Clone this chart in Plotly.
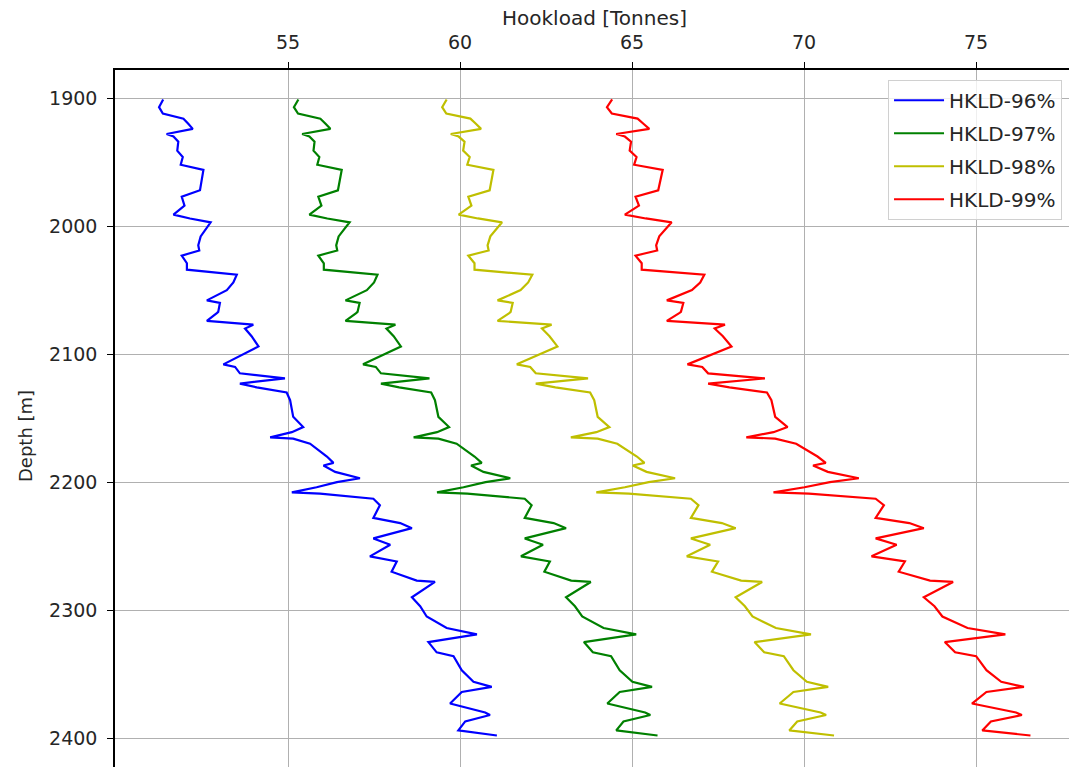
import plotly.graph_objects as go

depth = [1901, 1907, 1912, 1916, 1920, 1924, 1928, 1930, 1934, 1941,
         1946, 1952, 1956, 1964, 1972, 1977, 1984, 1991, 1994, 1997,
         2003, 2008, 2015, 2019, 2023, 2029, 2034, 2038, 2044, 2050,
         2058, 2060, 2067, 2068, 2074, 2077, 2080, 2086, 2094, 2100,
         2108, 2110, 2115, 2119, 2123, 2126, 2130, 2136, 2149, 2157,
         2161, 2165, 2166, 2170, 2172, 2180, 2185, 2187, 2192, 2197,
         2200, 2204, 2208, 2209, 2213, 2218, 2228, 2232, 2236, 2244,
         2249, 2258, 2262, 2270, 2277, 2278, 2290, 2297, 2305, 2314,
         2319, 2325, 2333, 2336, 2347, 2356, 2360, 2364, 2373, 2380,
         2382, 2387, 2394, 2398]

hkld_96 = [51.37, 51.25, 51.36, 51.96, 52.10, 52.23, 51.47, 51.67, 51.81, 51.78,
           51.94, 51.88, 52.54, 52.49, 52.44, 51.91, 51.99, 51.67, 52.15, 52.75,
           52.59, 52.46, 52.39, 52.42, 51.91, 52.06, 52.06, 53.51, 53.41, 53.22,
           52.64, 53.02, 52.97, 52.93, 52.64, 53.99, 53.75, 53.94, 54.14, 53.70,
           53.12, 53.46, 53.60, 54.91, 53.60, 54.09, 54.96, 55.06, 55.15, 55.44,
           55.11, 54.48, 55.15, 55.64, 55.74, 56.13, 56.32, 56.03, 56.37, 57.09,
           56.42, 55.83, 55.11, 55.93, 57.48, 57.67, 57.48, 58.26, 58.60, 57.48,
           57.97, 57.38, 58.16, 58.01, 58.74, 59.27, 58.60, 58.84, 59.03, 59.61,
           60.49, 59.08, 59.32, 59.81, 60.05, 60.39, 60.92, 60.05, 59.71, 60.73,
           60.87, 60.15, 59.95, 61.07]

hkld_97 = [55.30, 55.17, 55.29, 55.94, 56.09, 56.23, 55.41, 55.62, 55.77, 55.74,
           55.91, 55.85, 56.56, 56.51, 56.45, 55.88, 55.97, 55.62, 56.14, 56.79,
           56.61, 56.47, 56.40, 56.43, 55.88, 56.04, 56.04, 57.60, 57.50, 57.29,
           56.67, 57.08, 57.02, 56.98, 56.67, 58.12, 57.86, 58.07, 58.28, 57.81,
           57.18, 57.55, 57.70, 59.11, 57.70, 58.23, 59.16, 59.27, 59.37, 59.68,
           59.33, 58.65, 59.37, 59.90, 60.00, 60.42, 60.63, 60.32, 60.68, 61.46,
           60.74, 60.10, 59.33, 60.21, 61.88, 62.08, 61.88, 62.72, 63.08, 61.88,
           62.41, 61.77, 62.61, 62.45, 63.23, 63.80, 63.08, 63.34, 63.55, 64.17,
           65.12, 63.60, 63.86, 64.39, 64.64, 65.01, 65.58, 64.64, 64.28, 65.38,
           65.53, 64.75, 64.54, 65.74]

hkld_98 = [59.61, 59.48, 59.60, 60.30, 60.46, 60.61, 59.73, 59.96, 60.13, 60.09,
           60.28, 60.21, 60.97, 60.92, 60.86, 60.24, 60.33, 59.96, 60.52, 61.22,
           61.03, 60.88, 60.80, 60.83, 60.24, 60.42, 60.42, 62.10, 61.98, 61.76,
           61.09, 61.53, 61.47, 61.43, 61.09, 62.66, 62.38, 62.60, 62.83, 62.32,
           61.65, 62.04, 62.20, 63.72, 62.20, 62.77, 63.78, 63.90, 64.00, 64.34,
           63.96, 63.22, 64.00, 64.57, 64.69, 65.14, 65.36, 65.02, 65.42, 66.25,
           65.48, 64.79, 63.96, 64.91, 66.71, 66.93, 66.71, 67.61, 68.01, 66.71,
           67.27, 66.59, 67.50, 67.32, 68.17, 68.78, 68.01, 68.28, 68.50, 69.18,
           70.20, 68.56, 68.84, 69.41, 69.69, 70.08, 70.70, 69.69, 69.29, 70.48,
           70.64, 69.80, 69.57, 70.87]

hkld_99 = [64.42, 64.27, 64.41, 65.16, 65.33, 65.50, 64.54, 64.79, 64.97, 64.93,
           65.13, 65.06, 65.89, 65.82, 65.76, 65.10, 65.20, 64.79, 65.40, 66.15,
           65.95, 65.79, 65.70, 65.73, 65.10, 65.28, 65.28, 67.10, 66.98, 66.74,
           66.01, 66.49, 66.42, 66.37, 66.01, 67.70, 67.40, 67.64, 67.89, 67.34,
           66.61, 67.04, 67.21, 68.86, 67.21, 67.83, 68.92, 69.05, 69.16, 69.52,
           69.11, 68.32, 69.16, 69.77, 69.90, 70.39, 70.63, 70.26, 70.69, 71.59,
           70.75, 70.01, 69.11, 70.14, 72.08, 72.32, 72.08, 73.06, 73.48, 72.08,
           72.69, 71.96, 72.93, 72.75, 73.66, 74.33, 73.48, 73.79, 74.02, 74.75,
           75.85, 74.09, 74.39, 75.00, 75.30, 75.73, 76.39, 75.30, 74.88, 76.16,
           76.33, 75.43, 75.18, 76.58]

series_names = ["HKLD-96%", "HKLD-97%", "HKLD-98%", "HKLD-99%"]
series_values = [hkld_96, hkld_97, hkld_98, hkld_99]
series_colors = ["#0000ff", "#008000", "#bfbf00", "#ff0000"]

x_ticks = [55, 60, 65, 70, 75]
y_ticks = [1900, 2000, 2100, 2200, 2300, 2400]

FONT = "DejaVu Sans"
TXT = "#262626"

fig = go.Figure()
for name, vals, col in zip(series_names, series_values, series_colors):
    fig.add_trace(go.Scatter(
        x=vals, y=depth, mode="lines", name=name, legendgroup=name,
        line=dict(color=col, width=2.2),
    ))

fig.update_layout(
    width=1069, height=767,
    margin=dict(l=115, r=0, t=70, b=0),
    paper_bgcolor="white", plot_bgcolor="white",
    font=dict(family=FONT, size=19, color=TXT),
    showlegend=True,
    legend=dict(
        x=0.9927, y=0.986, xanchor="right", yanchor="top",
        bgcolor="rgba(255,255,255,0.8)", bordercolor="#d0d0d0", borderwidth=1,
        font=dict(family=FONT, size=20, color=TXT),
        itemwidth=50, tracegroupgap=4,
    ),
    xaxis=dict(
        side="top", range=[49.97, 77.7], tickvals=x_ticks,
        showgrid=True, gridcolor="#b0b0b0", gridwidth=1.4,
        showline=True, linecolor="black", linewidth=1.5, mirror=False,
        ticks="outside", ticklen=6, tickwidth=1.3, tickcolor="black",
        zeroline=False, ticklabelstandoff=6,
        tickfont=dict(family=FONT, size=19, color=TXT),
    ),
    yaxis=dict(
        range=[2422.6, 1878], tickvals=y_ticks,
        showgrid=True, gridcolor="#b0b0b0", gridwidth=1.4,
        showline=True, linecolor="black", linewidth=1.5, mirror=False,
        ticks="outside", ticklen=6, tickwidth=1.3, tickcolor="black",
        zeroline=False, ticklabelstandoff=6,
        tickfont=dict(family=FONT, size=19, color=TXT),
    ),
    annotations=[
        dict(text="Hookload [Tonnes]", xref="paper", yref="paper",
             x=0.503, y=1.0 + (70 - 18) / 697, xanchor="center", yanchor="middle",
             showarrow=False, font=dict(family=FONT, size=20, color=TXT)),
        dict(text="Depth [m]", xref="paper", yref="paper",
             x=(25 - 115) / 954, y=(767 - 436) / 697, xanchor="center", yanchor="middle",
             textangle=-90, showarrow=False, font=dict(family=FONT, size=18, color=TXT)),
    ],
)

fig.write_html("out.html")
